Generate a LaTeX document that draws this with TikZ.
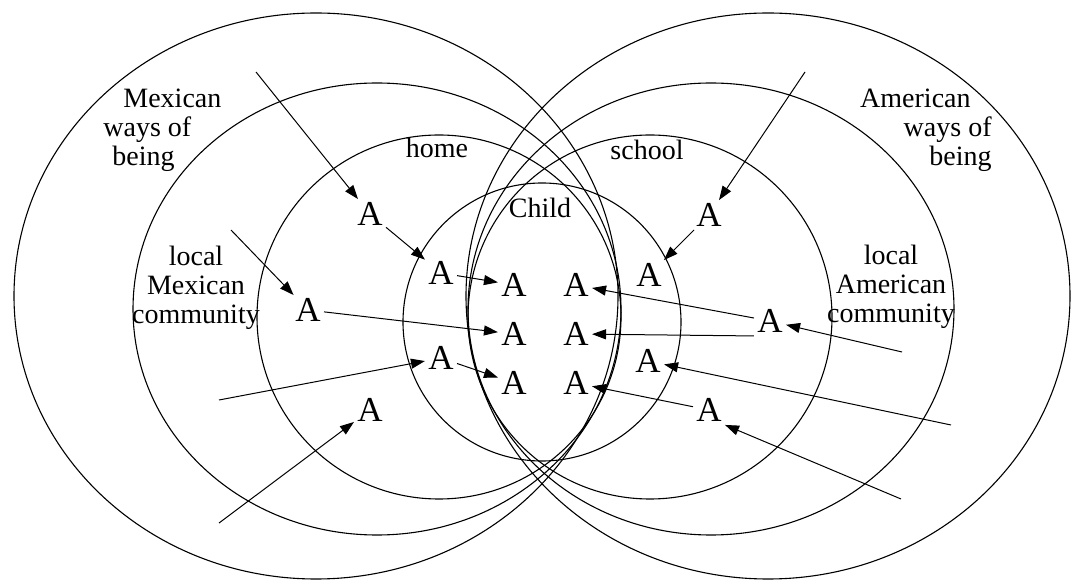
\documentclass[tikz,border=0pt]{standalone}
\usepackage{fontspec}
\setmainfont{Liberation Serif}
\usetikzlibrary{arrows.meta}

\begin{document}
\begin{tikzpicture}[
  x=0.5pt, y=-0.5pt,
  ring/.style={line width=0.55pt},
  lbl/.style={font=\fontsize{14}{14.3}\selectfont, inner sep=0pt},
  act/.style={font=\fontsize{17.5}{18}\selectfont, inner sep=1.5pt},
  arrow/.style={-{Triangle[length=7pt,width=5pt]}, line width=0.5pt}
]
\useasboundingbox (0,0) rectangle (1071,582);

% Mexican side
\draw[ring] (316,296) ellipse [x radius=302, y radius=283];
\draw[ring] (377,309) ellipse [x radius=244, y radius=226];
\draw[ring] (439,317) circle [radius=182];
% American side
\draw[ring] (768,296) ellipse [x radius=302, y radius=283];
\draw[ring] (711,309) ellipse [x radius=243, y radius=226];
\draw[ring] (650,317) circle [radius=182];
% child
\draw[ring] (542,322) circle [radius=139];

\node[lbl, align=left, anchor=north west] (mexWaysLbl) at (103,89)
  {\hspace*{10pt}Mexican\\ways of\\\hspace*{4.5pt}being};
\node[lbl, align=right, anchor=north east] (amWaysLbl) at (992,89)
  {American\hspace*{10.5pt}\\ways of\hspace*{6pt}\\being};
\node[lbl, align=center, anchor=north] (mexLocLbl) at (196,246)
  {local\\Mexican\\community};
\node[lbl, align=center, anchor=north] (amLocLbl) at (891,245)
  {local\\American\\community};
\node[lbl, anchor=base] (homeLbl) at (437,158) {home};
\node[lbl, anchor=base] (schoolLbl) at (647,160) {school};
\node[lbl, anchor=base] (childLbl) at (540,218) {Child};

\node[act] (wayM) at (370,214) {A};
\node[act] (homeUp) at (441,273) {A};
\node[act] (locM) at (308,310) {A};
\node[act] (homeLo) at (441,358) {A};
\node[act] (lowM) at (370,410) {A};
\node[act] (wayA) at (709,215) {A};
\node[act] (schUp) at (649,275) {A};
\node[act] (locA) at (770,321) {A};
\node[act] (schLo) at (648,361) {A};
\node[act] (lowA) at (709,410) {A};

\node[act] (c11) at (514,285) {A};
\node[act] (c12) at (514,334) {A};
\node[act] (c13) at (514,383) {A};
\node[act] (c21) at (576,285) {A};
\node[act] (c22) at (576,334) {A};
\node[act] (c23) at (576,383) {A};

\coordinate (fromMw) at (256,72);
\coordinate (fromMl) at (231,230);
\coordinate (fromMh) at (219,400);
\coordinate (fromMb) at (219,523);
\coordinate (fromAw) at (805,72);
\coordinate (fromAl) at (902,352);
\coordinate (fromAs) at (951,425);
\coordinate (fromAb) at (901,499);

\draw[arrow] (fromMw) -- (wayM);
\draw[arrow] (wayM) -- (homeUp);
\draw[arrow] (fromMl) -- (locM);
\draw[arrow] (homeUp) -- (c11);
\draw[arrow] (locM) -- (c12);
\draw[arrow] (fromMh) -- (homeLo);
\draw[arrow] (homeLo) -- (c13);
\draw[arrow] (fromMb) -- (lowM);
\draw[arrow] (fromAw) -- (wayA);
\draw[arrow] (wayA) -- (schUp);
\draw[arrow] (fromAl) -- (locA);
\draw[arrow] (locA) -- (c21);
\draw[arrow] (locA.south west) -- (c22);
\draw[arrow] (fromAs) -- (schLo);
\draw[arrow] (lowA) -- (c23);
\draw[arrow] (fromAb) -- (lowA.south east);
\end{tikzpicture}
\end{document}
